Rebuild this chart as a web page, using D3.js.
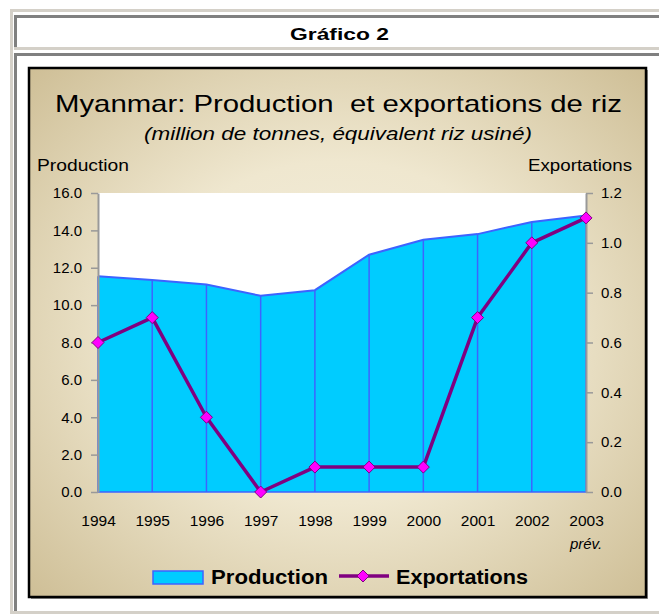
<!DOCTYPE html>
<html>
<head>
<meta charset="utf-8">
<script src="https://cdn.jsdelivr.net/npm/d3@7"></script>
<style>
  html, body { margin: 0; padding: 0; background: #ffffff; }
  svg { display: block; }
  text { font-family: "Liberation Sans", Arial, sans-serif; white-space: pre; }
</style>
</head>
<body>
<svg id="chart" width="659" height="615"></svg>
<script>
// ---- data ----
const years = ["1994","1995","1996","1997","1998","1999","2000","2001","2002","2003"];
const production = [11.55, 11.35, 11.1, 10.5, 10.8, 12.7, 13.5, 13.8, 14.45, 14.8];
const exportations = [0.6, 0.7, 0.3, 0.0, 0.1, 0.1, 0.1, 0.7, 1.0, 1.1];
const leftTicks = [0, 2, 4, 6, 8, 10, 12, 14, 16];
const rightTicks = [0, 0.2, 0.4, 0.6, 0.8, 1.0, 1.2];

const svg = d3.select("#chart");

// ---- page frame (table look) ----
const lg = "#d4d0c8", dg = "#808080";
svg.append("rect").attr("x", 10).attr("y", 9).attr("width", 660).attr("height", 3).attr("fill", lg);
svg.append("rect").attr("x", 10).attr("y", 9).attr("width", 3).attr("height", 605).attr("fill", lg);
svg.append("rect").attr("x", 10).attr("y", 611).attr("width", 660).attr("height", 3).attr("fill", lg);
// cell 1
svg.append("rect").attr("x", 14).attr("y", 15).attr("width", 660).attr("height", 3).attr("fill", dg);
svg.append("rect").attr("x", 14).attr("y", 15).attr("width", 3).attr("height", 35).attr("fill", dg);
svg.append("rect").attr("x", 14).attr("y", 47).attr("width", 660).attr("height", 3).attr("fill", lg);
// cell 2
svg.append("rect").attr("x", 14).attr("y", 53).attr("width", 660).attr("height", 3).attr("fill", dg);
svg.append("rect").attr("x", 14).attr("y", 53).attr("width", 3).attr("height", 558).attr("fill", dg);

svg.append("text").attr("x", 290).attr("y", 40)
  .attr("font-size", 17).attr("font-weight", "bold").attr("fill", "#000")
  .attr("textLength", 99).attr("lengthAdjust", "spacingAndGlyphs")
  .text("Gráfico 2");

// ---- chart frame with gradient ----
const defs = svg.append("defs");
const grad = defs.append("radialGradient").attr("id", "bg")
  .attr("cx", "50%").attr("cy", "50%").attr("r", "72%");
grad.append("stop").attr("offset", "0%").attr("stop-color", "#f4efdf");
grad.append("stop").attr("offset", "45%").attr("stop-color", "#efe7cf");
grad.append("stop").attr("offset", "100%").attr("stop-color", "#cdbd94");

svg.append("rect").attr("x", 31).attr("y", 70).attr("width", 617).attr("height", 529).attr("fill", "#999");
svg.append("rect").attr("x", 29).attr("y", 68).attr("width", 617).attr("height", 529)
  .attr("fill", "url(#bg)").attr("stroke", "#000").attr("stroke-width", 2.5);

// ---- titles ----
svg.append("text").attr("x", 55).attr("y", 112).attr("font-size", 24).attr("fill", "#000")
  .attr("textLength", 567).attr("lengthAdjust", "spacingAndGlyphs")
  .text("Myanmar: Production  et exportations de riz");
svg.append("text").attr("x", 144).attr("y", 140).attr("font-size", 18).attr("font-style", "italic").attr("fill", "#000")
  .attr("textLength", 388).attr("lengthAdjust", "spacingAndGlyphs")
  .text("(million de tonnes, équivalent riz usiné)");
svg.append("text").attr("x", 37).attr("y", 171).attr("font-size", 16).attr("fill", "#000")
  .attr("textLength", 92).attr("lengthAdjust", "spacingAndGlyphs")
  .text("Production");
svg.append("text").attr("x", 528).attr("y", 171).attr("font-size", 16).attr("fill", "#000")
  .attr("textLength", 104).attr("lengthAdjust", "spacingAndGlyphs")
  .text("Exportations");

// ---- scales ----
const x = d3.scalePoint().domain(years).range([98, 586]);
const yL = d3.scaleLinear().domain([0, 16]).range([492, 193]);
const yR = d3.scaleLinear().domain([0, 1.2]).range([492, 193]);

// plot area
svg.append("rect").attr("x", x.range()[0]).attr("y", yL(16))
  .attr("width", x.range()[1] - x.range()[0]).attr("height", yL(0) - yL(16)).attr("fill", "#fff");

// production area
const prodData = years.map((y, i) => ({ year: y, v: production[i] }));
const area = d3.area().x(d => x(d.year)).y0(yL(0)).y1(d => yL(d.v));
svg.append("path").datum(prodData).attr("d", area).attr("fill", "#00ccff");
// drop lines
svg.selectAll(".drop").data(prodData).enter().append("line")
  .attr("x1", d => x(d.year)).attr("x2", d => x(d.year))
  .attr("y1", yL(0)).attr("y2", d => yL(d.v))
  .attr("stroke", "#3d63ff").attr("stroke-width", 1.5);
svg.append("path").datum(prodData)
  .attr("d", d3.line().x(d => x(d.year)).y(d => yL(d.v)))
  .attr("fill", "none").attr("stroke", "#3d63ff").attr("stroke-width", 2);
svg.append("line").attr("x1", x.range()[0]).attr("x2", x.range()[1])
  .attr("y1", yL(0)).attr("y2", yL(0)).attr("stroke", "#3d63ff").attr("stroke-width", 1.5);

// ---- axes ----
const fmt = d3.format(".1f");
const gL = svg.append("g").attr("transform", `translate(${x.range()[0]},0)`)
  .call(d3.axisLeft(yL).tickValues(leftTicks).tickFormat(fmt).tickSize(7).tickSizeOuter(0).tickPadding(9));
const gR = svg.append("g").attr("transform", `translate(${x.range()[1]},0)`)
  .call(d3.axisRight(yR).tickValues(rightTicks).tickFormat(fmt).tickSize(7).tickSizeOuter(0).tickPadding(8));
[gL, gR].forEach(g => {
  g.select(".domain").attr("stroke", "#999").attr("stroke-width", 2);
  g.selectAll(".tick line").attr("stroke", "#999").attr("stroke-width", 1.5);
  g.selectAll(".tick text").attr("font-size", 15).attr("fill", "#000")
    .attr("font-family", "'Liberation Sans', Arial, sans-serif");
});

const gB = svg.append("g").attr("transform", `translate(0,${yL(0)})`)
  .call(d3.axisBottom(x).tickSize(0).tickPadding(23));
gB.select(".domain").remove();
gB.selectAll(".tick text").attr("font-size", 15.5).attr("fill", "#000")
  .attr("font-family", "'Liberation Sans', Arial, sans-serif");

svg.append("text").attr("x", x("2003")).attr("y", 549).attr("text-anchor", "middle")
  .attr("font-size", 15).attr("font-style", "italic").attr("fill", "#000").text("prév.");

// ---- exportations line ----
const expData = years.map((y, i) => ({ year: y, v: exportations[i] }));
svg.append("path").datum(expData)
  .attr("d", d3.line().x(d => x(d.year)).y(d => yR(d.v)))
  .attr("fill", "none").attr("stroke", "#800080").attr("stroke-width", 3.5).attr("stroke-linejoin", "round");
const diamond = "M0,-6L6,0L0,6L-6,0Z";
svg.selectAll(".mk").data(expData).enter().append("path")
  .attr("transform", d => `translate(${x(d.year)},${yR(d.v)})`)
  .attr("d", diamond).attr("fill", "#ff00ff").attr("stroke", "#800080").attr("stroke-width", 1);

// ---- legend ----
svg.append("rect").attr("x", 153).attr("y", 571).attr("width", 50).attr("height", 13)
  .attr("fill", "#00ccff").attr("stroke", "#3d63ff").attr("stroke-width", 1.5);
svg.append("text").attr("x", 211).attr("y", 584).attr("font-size", 20).attr("font-weight", "bold")
  .attr("textLength", 117).attr("lengthAdjust", "spacingAndGlyphs").text("Production");
svg.append("line").attr("x1", 339).attr("x2", 389).attr("y1", 576).attr("y2", 576)
  .attr("stroke", "#800080").attr("stroke-width", 3.5);
svg.append("path").attr("transform", "translate(363,576)").attr("d", diamond)
  .attr("fill", "#ff00ff").attr("stroke", "#800080").attr("stroke-width", 1);
svg.append("text").attr("x", 396).attr("y", 584).attr("font-size", 20).attr("font-weight", "bold")
  .attr("textLength", 132).attr("lengthAdjust", "spacingAndGlyphs").text("Exportations");
</script>
</body>
</html>
